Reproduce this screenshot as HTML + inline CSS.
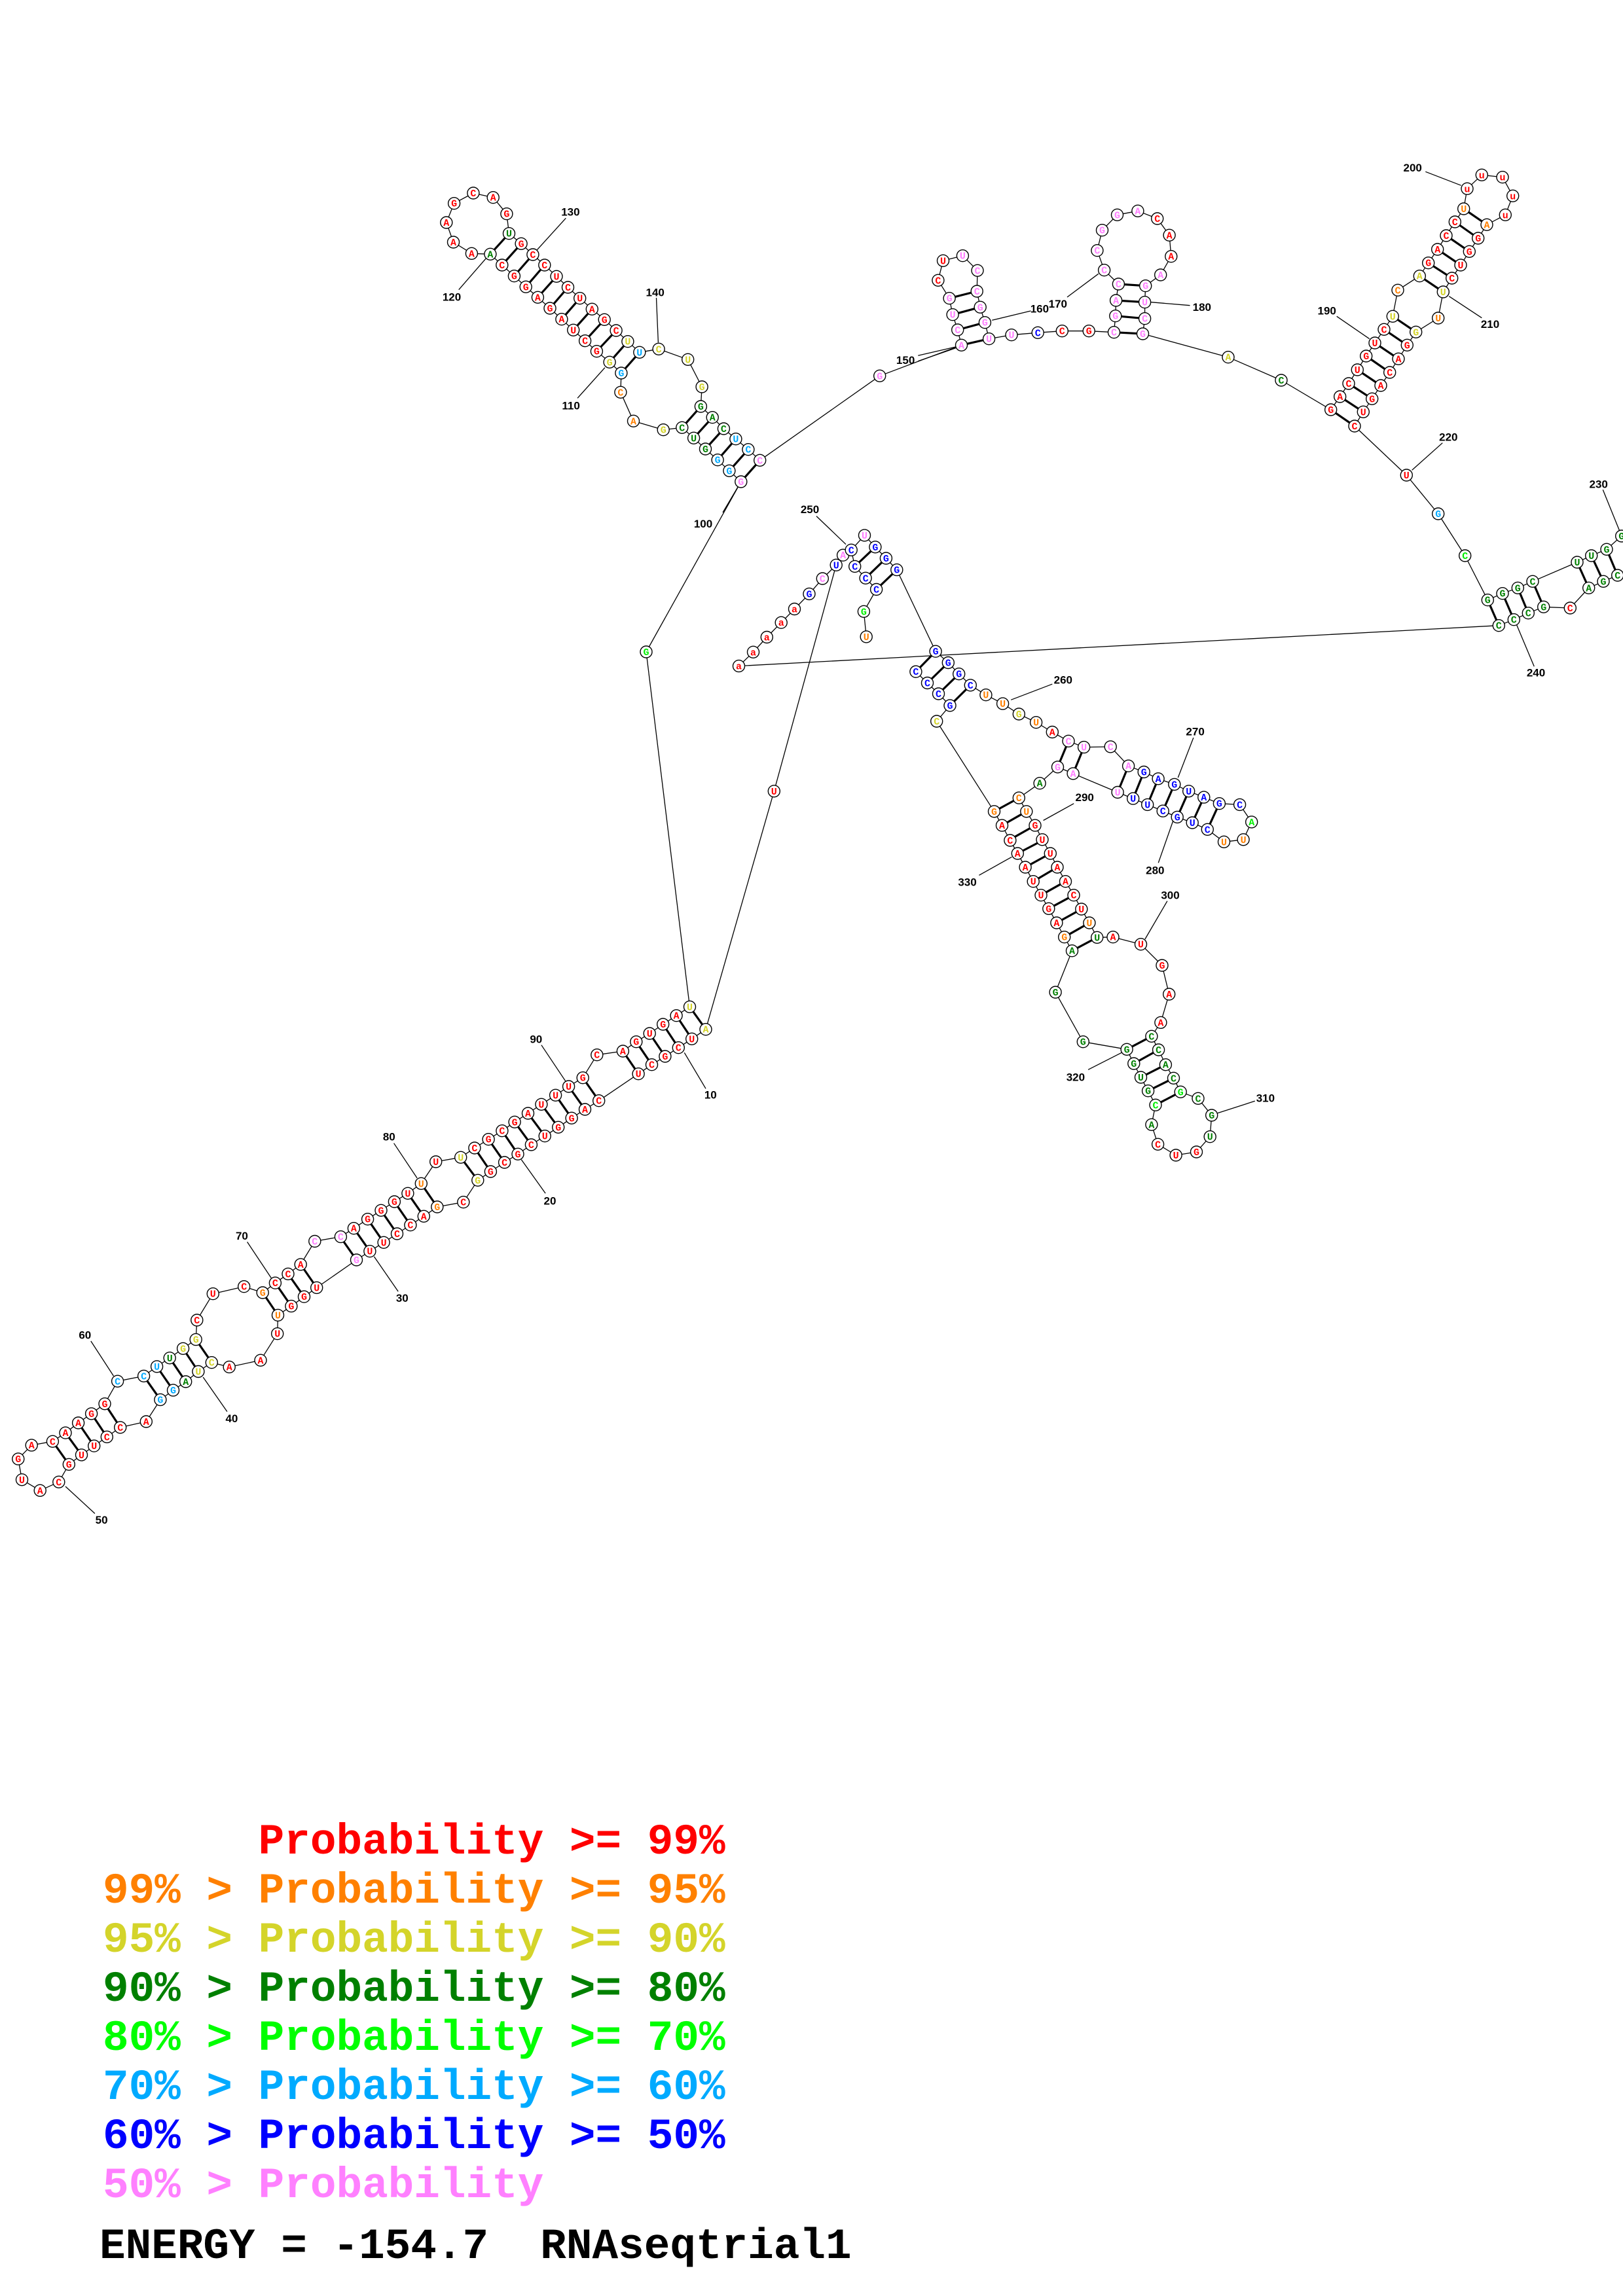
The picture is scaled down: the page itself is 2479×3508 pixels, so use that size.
<!DOCTYPE html>
<html><head><meta charset="utf-8">
<style>
html,body{margin:0;padding:0;background:#fff;}
svg{display:block;}
</style></head>
<body>
<svg id="s" xmlns="http://www.w3.org/2000/svg" width="2479" height="3508" viewBox="0 0 2479 3508">
<g id="lines" stroke="#000" stroke-width="1.3" fill="none"></g>
<g id="pairs" stroke="#000" stroke-width="3.2" fill="none"></g>
<g id="nodes"></g>
<g id="labels" font-family="'Liberation Sans',sans-serif" font-weight="bold" font-size="17" fill="#000" text-anchor="middle"></g>
<g font-family="'Liberation Mono',monospace" font-weight="bold" font-size="66" xml:space="preserve">
<text x="157" y="2832" fill="#ff0000" xml:space="preserve">      Probability &gt;= 99%</text>
<text x="157" y="2907" fill="#ff8000" xml:space="preserve">99% &gt; Probability &gt;= 95%</text>
<text x="157" y="2982" fill="#d4d42a" xml:space="preserve">95% &gt; Probability &gt;= 90%</text>
<text x="157" y="3057" fill="#008000" xml:space="preserve">90% &gt; Probability &gt;= 80%</text>
<text x="157" y="3132" fill="#00ff00" xml:space="preserve">80% &gt; Probability &gt;= 70%</text>
<text x="157" y="3207" fill="#00aaff" xml:space="preserve">70% &gt; Probability &gt;= 60%</text>
<text x="157" y="3282" fill="#0000ff" xml:space="preserve">60% &gt; Probability &gt;= 50%</text>
<text x="157" y="3357" fill="#ff80ff" xml:space="preserve">50% &gt; Probability</text>
<text x="152" y="3450" fill="#000000" xml:space="preserve">ENERGY = -154.7  RNAseqtrial1</text>
</g>
</svg>
<script>
(function(){
var Z={F:[0,0,1,1],1:[640,260,2.8,3],2:[1100,780,1.8233,2.9037],3:[480,1500,2.45,3],4:[0,1820,2.45,2.9037],5:[1320,290,2.6133,3],6:[1960,220,3,3],7:[2060,640,3,3],8:[1440,1280,2.8,3]};
function T(z,x,y){var t=Z[z];return [t[0]+x/t[2],t[1]+y/t[3]];}
var COL={r:'#ff0000',o:'#ff8000',y:'#d4d42a',g:'#008000',l:'#00ee00',c:'#00aaff',b:'#0000ff',p:'#ff80ff'};
function parse(z,s){return s.trim().split(/\s+/).map(function(tok){var a=tok.split(',');var p=T(z,+a[0],+a[1]);return {x:p[0],y:p[1],L:a[2].charAt(0),c:COL[a[2].charAt(1)]};});}
var NS='http://www.w3.org/2000/svg';
function el(g,tag,attrs,txt){var e=document.createElementNS(NS,tag);for(var k in attrs)e.setAttribute(k,attrs[k]);if(txt!==undefined)e.textContent=txt;document.getElementById(g).appendChild(e);return e;}
function line(g,a,b){el(g,'line',{x1:a[0].toFixed(1),y1:a[1].toFixed(1),x2:b[0].toFixed(1),y2:b[1].toFixed(1)});}
var allNodes=[];
function chain(arr){for(var i=0;i<arr.length;i++){allNodes.push(arr[i]);if(i>0)line('lines',[arr[i-1].x,arr[i-1].y],[arr[i].x,arr[i].y]);}}

// Chain 1
var L=[].concat(
parse(3,"1465,218,Ay 1413,262,Ur 1363,302,Cr 1313,342,Gr 1263,380,Cr 1213,422,Ur 1065,545,Cr 1013,585,Ar 963,625,Gr 913,667,Gr 863,707,Ur 812,747,Cr 762,790,Gr 712,828,Cr 660,870,Gr 612,910,Gy 558,1010,Cr 460,1032,Go 410,1075,Ar 360,1115,Cr 310,1155,Cr 260,1195,Ur 208,1235,Ur 158,1275,Gp"),
parse(4,"1185,428,Ur 1138,468,Gr 1090,510,Gr 1040,550,Uo 1038,632,Ur 975,750,Ar 858,780,Ar 792,760,Cy 742,800,Uy 695,845,Ag 648,883,Gc 600,925,Gc 547,1022,Ar 450,1048,Cr 400,1090,Cr 352,1130,Ur 305,1170,Ur 258,1212,Gr 220,1290,Cr 150,1328,Ar 82,1280,Ur 68,1188,Gr 118,1127,Ar 197,1110,Cr 245,1072,Ar 293,1028,Ar 342,987,Gr 392,943,Gr 440,843,Cc 538,820,Cc 587,778,Uc 635,740,Ug 685,698,Gy 733,658,Gy 737,572,Cr 797,455,Ur 913,423,Cr 983,450,Go 1030,407,Cr 1078,367,Cr 1125,325,Ar 1178,222,Cp 1275,202,Cp"),
parse(3,"148,1130,Ar 200,1088,Gr 250,1048,Gr 300,1008,Gr 350,970,Ur 400,925,Uo 455,825,Ur 548,805,Uy 600,762,Cr 652,722,Gr 703,683,Cr 750,643,Gr 800,603,Ar 850,562,Ur 903,520,Ur 952,480,Ur 1005,440,Gr 1058,335,Cr 1155,318,Ar 1205,275,Gr 1255,237,Ur 1305,195,Gr 1355,155,Ar 1405,115,Uy"),
parse('F',"987,996,Gl"),
parse(1,"1458,1330,Cp 1408,1280,Cc 1355,1232,Uc 1303,1185,Cg 1255,1133,Ag 1205,1083,Gg 1210,993,Gy 1150,868,Uy 1025,820,Cy 943,835,Uc 893,785,Uy 843,735,Cr 793,685,Gr 740,637,Ar 688,587,Ur 637,537,Cr 588,487,Ur 537,435,Cr 487,387,Cr 437,337,Gr 385,290,Ug 375,200,Gr 317,125,Ar 232,105,Cr 150,152,Gr 117,240,Ar 147,330,Ar 225,382,Ar 305,385,Ag 355,435,Cr 407,485,Gr 457,535,Gr 508,583,Ar 560,633,Gr 610,683,Ar 660,733,Ur 710,782,Cr 760,830,Gr 815,880,Gy 865,930,Gc 862,1018,Co 917,1150,Ao 1045,1190,Gy 1125,1180,Cg 1175,1228,Ug 1225,1278,Gg 1277,1328,Gc 1327,1378,Gc 1377,1428,Gp").reverse(),
parse(5,"62,853,Gp 388,712,Ap 373,642,Cp 353,572,Up 340,497,Gp 295,415,Cr 315,325,Ur 393,302,Up 452,370,Cp 450,465,Cp 463,538,Gp 482,608,Gp 498,683,Up 588,665,Up 693,655,Cb 790,647,Cr 897,647,Gr 997,653,Cp 1003,578,Gp 1005,507,Ap 1015,432,Cp 958,368,Cp 930,278,Cp 950,185,Gp 1010,115,Gp 1092,97,Ap 1170,132,Cr 1218,208,Ar 1225,305,Ar 1183,390,Ap 1123,440,Gp 1120,515,Up 1120,590,Cp 1112,660,Gp 1453,767,Ay"),
parse('F',"1957,581,Cg"),
parse(6,"218,1218,Gr 260,1158,Ar 300,1098,Cr 340,1035,Ur 380,972,Gr 420,912,Ur 462,850,Cr 502,790,Uy 525,670,Co 625,605,Ay 665,545,Gr 707,483,Ar 747,420,Cr 787,357,Cr 827,297,Uo 843,205,ur 910,142,ur 1005,152,ur 1052,238,ur 1018,325,ur 933,370,Ao 893,432,Gr 853,493,Gr 813,555,Ur 773,615,Cr 733,678,Uy 710,798,Uo 608,862,Gy 568,922,Gr 528,985,Ar 488,1047,Cr 447,1107,Ar 407,1168,Gr 367,1228,Ur 327,1293,Cr"),
parse(7,"265,258,Ur 410,435,Gc 533,627,Cl 637,830,Gg 705,800,Gg 775,775,Gg 843,745,Cg 1047,657,Ug 1112,627,Ug 1182,598,Gg 1250,537,Gg")
);
chain(L);
// Chain 2
var C2=[].concat(
parse(7,"1232,717,Cg 1167,745,Gg 1100,775,Ag 1015,867,Cr 893,862,Gg 823,890,Cg 757,920,Cg 688,947,Cg"),
parse(2,"52,690,ar 92,628,ar 130,562,ar 170,497,ar 207,437,ar 248,370,Gb 285,302,Cp 323,242,Ub 342,198,Ap 365,175,Cb 402,110,Up 432,162,Gb 462,212,Gb 492,263,Gb 600,625,Gb 635,675,Gb 665,725,Gb 697,775,Cb 740,818,Uo 787,857,Uo 832,903,Gy 880,940,Uo 925,983,Ar 970,1023,Cp 1013,1050,Up 1087,1048,Cp 1137,1133,Ap 1180,1160,Gb 1220,1190,Ab 1265,1215,Gb 1305,1245,Ub 1347,1272,Ab 1390,1300,Gb 1447,1305,Cb 1480,1382,Al 1457,1460,Uo 1403,1470,Uo 1357,1415,Cb 1315,1385,Ub 1273,1360,Gb 1233,1333,Cb 1190,1305,Ub 1150,1278,Ub 1107,1250,Up 983,1167,Ap 940,1138,Gp 890,1210,Ag 832,1275,Co 853,1335,Uo 877,1397,Gr 897,1460,Ur"),
parse(8,"460,72,Ur 490,135,Ar 525,200,Ar 560,263,Cr 593,327,Ur 627,390,Uo 660,457,Ug 728,455,Ar 847,488,Ur 938,585,Gr 968,717,Ar 932,847,Ar 893,910,Cg 923,972,Cg 953,1040,Ag 987,1102,Cg 1017,1165,Gl 1092,1195,Cg 1150,1272,Gg 1143,1370,Ug 1085,1440,Gr 997,1455,Ur 920,1405,Cr 893,1315,Ag 910,1225,Cl 878,1160,Gg 847,1098,Ug 817,1035,Gg 787,970,Gg 600,935,Gg 482,708,Gg 553,518,Ag 520,455,Go 487,390,Ar 453,325,Gr 420,263,Ur 387,200,Ur 353,135,Ar 320,72,Ar 288,12,Cr"),
parse(2,"785,1397,Ar 763,1335,Go 603,935,Cy 640,865,Gb 608,813,Cb 577,765,Cb 545,715,Cb")
);
chain(C2);
// Chain 3 (5' hanging)
var C3=parse(2,"407,560,Uo 400,448,Gl 435,350,Cb 405,300,Cb 375,248,Cb");
chain(C3);
var C4=parse(2,"150,1245,Ur");
allNodes.push(C4[0]);
// extra connections
line('lines',T(2,323,242),T(2,150,1245));
line('lines',T(2,150,1245),T(3,1465,218));
line('lines',T(2,375,248),T(2,365,175));
line('lines',T(7,1250,537),[2490,822]);
line('lines',[2490,872],T(7,1232,717));

// pairs
function pairs(z,arr){arr.forEach(function(p){line('pairs',T(z,p[0],p[1]),T(z,p[2],p[3]));});}
pairs(3,[[1405,115,1465,218],[1355,155,1413,262],[1305,195,1363,302],[1255,237,1313,342],[1205,275,1263,380],[1155,318,1213,422],[1005,440,1065,545],[952,480,1013,585],[903,520,963,625],[850,562,913,667],[800,603,863,707],[750,643,812,747],[703,683,762,790],[652,722,712,828],[600,762,660,870],[548,805,612,910],[400,925,460,1032],[350,970,410,1075],[300,1008,360,1115],[250,1048,310,1155],[200,1088,260,1195],[148,1130,208,1235],[98,1170,158,1275]]);
pairs(4,[[1125,325,1185,428],[1078,367,1138,468],[1030,407,1090,510],[983,450,1040,550],[733,658,792,760],[685,698,742,800],[635,740,695,845],[587,778,648,883],[538,820,600,925],[392,943,450,1048],[342,987,400,1090],[293,1028,352,1130],[245,1072,305,1170],[197,1110,258,1212]]);
pairs(1,[[1458,1330,1377,1428],[1408,1280,1327,1378],[1355,1232,1277,1328],[1303,1185,1225,1278],[1255,1133,1175,1228],[1205,1083,1125,1180],[943,835,865,930],[893,785,815,880],[843,735,760,830],[793,685,710,782],[740,637,660,733],[688,587,610,683],[637,537,560,633],[588,487,508,583],[537,435,457,535],[487,387,407,485],[437,337,355,435],[385,290,305,385]]);
pairs(5,[[388,712,498,683],[373,642,482,608],[353,572,463,538],[340,497,450,465],[997,653,1112,660],[1003,578,1120,590],[1005,507,1120,515],[1015,432,1123,440]]);
pairs(6,[[218,1218,327,1293],[260,1158,367,1228],[300,1098,407,1168],[340,1035,447,1107],[380,972,488,1047],[420,912,528,985],[462,850,568,922],[502,790,608,862],[625,605,733,678],[665,545,773,615],[707,483,813,555],[747,420,853,493],[787,357,893,432],[827,297,933,370]]);
pairs(7,[[637,830,688,947],[705,800,757,920],[775,775,823,890],[843,745,893,862],[1047,657,1100,775],[1112,627,1167,745],[1182,598,1232,717]]);
pairs(2,[[375,248,432,162],[405,300,462,212],[435,350,492,263],[600,625,545,715],[635,675,577,765],[665,725,608,813],[697,775,640,865],[970,1023,940,1138],[1013,1050,983,1167],[1137,1133,1107,1250],[1180,1160,1150,1278],[1220,1190,1190,1305],[1265,1215,1233,1333],[1305,1245,1273,1360],[1347,1272,1315,1385],[1390,1300,1357,1415],[763,1335,832,1275],[785,1397,853,1335],[807,1460,877,1397]]);
pairs(8,[[320,72,427,12],[353,135,460,72],[387,200,490,135],[420,263,525,200],[453,325,560,263],[487,390,593,327],[520,455,627,390],[553,518,660,457],[787,970,893,910],[817,1035,923,972],[847,1098,953,1040],[878,1160,987,1102],[910,1225,1017,1165]]);

// labels
function lab(z,t,tx,ty,a,b,c,d){var p=T(z,tx,ty);el('labels','text',{x:p[0].toFixed(1),y:(p[1]+6).toFixed(1)},t);if(a!==undefined)line('lines',T(z,a,b),T(z,c,d));}
lab(3,'90',830,262,850,290,940,455);
lab(3,'80',280,710,298,740,385,900);
lab(3,'20',882,1003,865,970,775,815);
lab(3,'10',1483,517,1465,490,1385,325);
lab(4,'70',905,198,925,225,1015,385);
lab(4,'60',318,637,340,665,425,820);
lab(4,'40',867,1008,850,978,760,825);
lab(4,'50',380,1458,355,1430,245,1310);
lab(4,'30',1505,473,1490,445,1400,290);
lab(1,'130',648,190,628,220,505,365);
lab(1,'120',140,580,170,548,290,400);
lab(1,'140',1010,560,1015,585,1023,790);
lab(1,'110',650,1078,678,1045,795,905);
lab('F','100',1074,800);
line('lines',T(1,1377,1428),[1104,783]);
lab(5,'150',165,780,215,760,365,720);
line('lines',T(5,215,785),T(5,365,725));
lab(5,'160',700,545,510,598,665,555);
lab(5,'170',773,522,810,492,935,385);
lab(5,'180',1348,537,1145,515,1300,530);
lab(6,'200',593,108,652,127,815,190);
lab(6,'190',200,763,245,790,395,893);
lab(6,'210',948,825,910,797,760,698);
lab(7,'220',457,82,430,110,290,235);
lab(7,'230',1145,298,1165,325,1240,510);
lab(7,'240',858,1162,850,1135,770,945);
lab('F','250',1237,778);
line('lines',T(2,268,25),T(2,350,150));
lab(2,'260',955,750,925,770,810,840);
lab(2,'270',1323,980,1318,1008,1275,1185);
lab(2,'290',1015,1272,985,1300,900,1375);
lab(8,'280',908,148);
line('lines',T(2,1265,1360),T(8,922,115));
lab(8,'330',105,202,155,172,295,88);
lab(8,'300',973,262,960,290,865,465);
lab(8,'320',568,1097,622,1063,765,985);
lab(8,'310',1380,1192,1335,1207,1175,1262);

// nodes
allNodes.forEach(function(n){
  el('nodes','circle',{cx:n.x.toFixed(1),cy:n.y.toFixed(1),r:9,fill:'#fff',stroke:'#000','stroke-width':1.4});
  el('nodes','text',{x:n.x.toFixed(1),y:(n.y+5).toFixed(1),fill:n.c,'font-family':"'Liberation Mono',monospace",'font-weight':'bold','font-size':15,'text-anchor':'middle'},n.L);
});
})();
</script>
</body></html>
